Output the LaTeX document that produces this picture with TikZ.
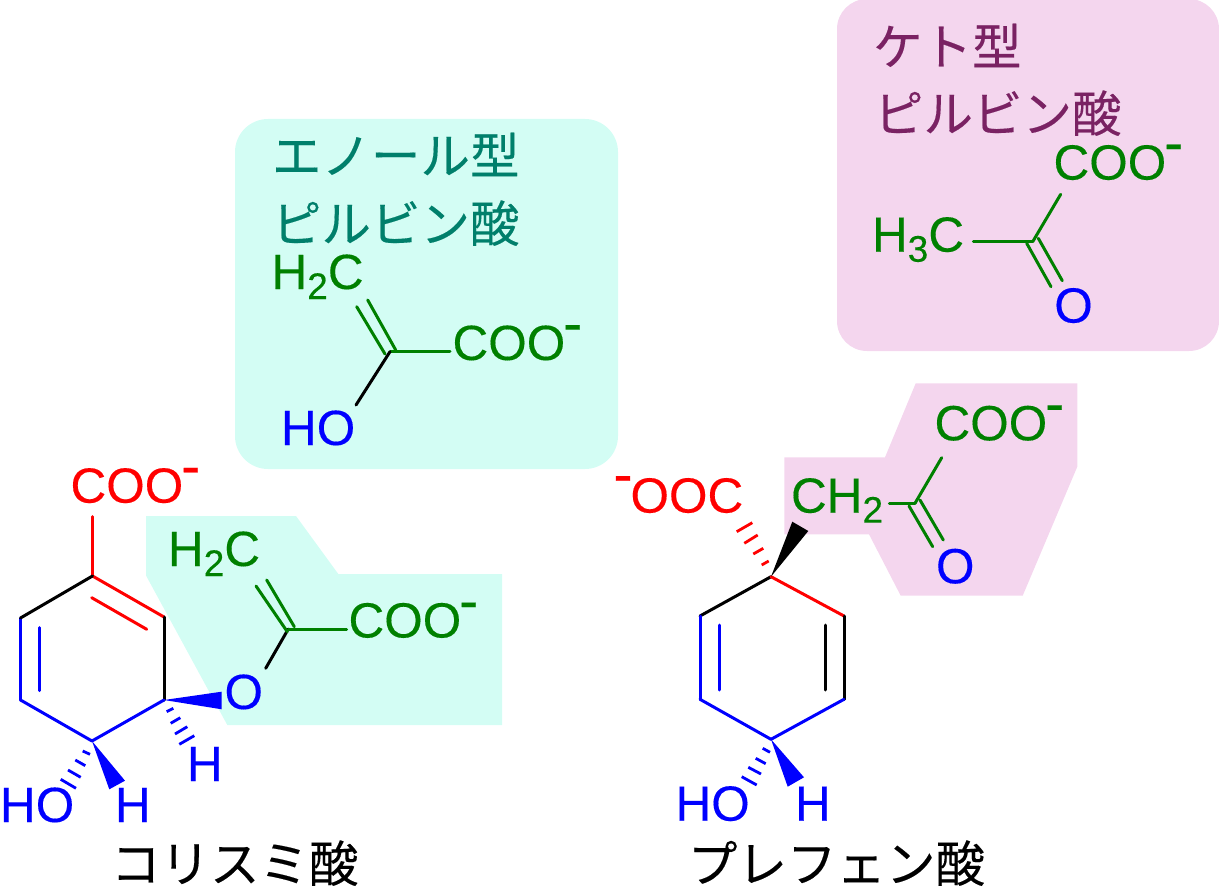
\documentclass[tikz,border=0pt]{standalone}
\usepackage{fontspec}
\setmainfont[FakeBold=0.25]{Liberation Sans}
\newfontfamily\cjk[FakeBold=0.25]{Noto Sans CJK JP}
\definecolor{tealbg}{HTML}{D3FDF4}
\definecolor{pinkbg}{HTML}{F4D6EE}
\definecolor{tealtx}{HTML}{007F6B}
\definecolor{pinktx}{HTML}{7A2263}
\definecolor{grn}{HTML}{008000}
\definecolor{blu}{HTML}{0000FF}
\definecolor{rd}{HTML}{FF0000}
\newcommand{\minussup}{\kern-2pt\raisebox{17.5pt}{\fontsize{57pt}{57pt}\selectfont -}}
\newcommand{\minuspre}{\raisebox{19pt}{\fontsize{57pt}{57pt}\selectfont -}\kern-2pt}
\newcommand{\subdigit}[1]{\raisebox{-10pt}{\fontsize{37pt}{37pt}\selectfont #1}}
\tikzset{
  atom/.style={anchor=base west,inner sep=0pt,outer sep=0pt,font=\fontsize{49.5pt}{49.5pt}\selectfont},
  jp/.style={anchor=base west,inner sep=0pt,outer sep=0pt,font=\fontsize{49.5pt}{49.5pt}\selectfont\cjk},
  bond/.style={line width=3pt,line cap=round,line join=round},
  hashb/.style={line width=2.8pt,line cap=butt}
}
\begin{document}
\begin{tikzpicture}[x=1pt,y=-1pt]
\path[use as bounding box] (0,0) rectangle (1219,888);
% backgrounds
\fill[tealbg,rounded corners=33pt] (235,119) rectangle (618,469);
\fill[pinkbg,rounded corners=30pt] (837,-1) rectangle (1219,351);
\fill[tealbg] (146,516) -- (296,516) -- (338.3,574) -- (502,574) -- (502,725) -- (227.3,725) -- (146,575.5) -- cycle;
\fill[pinkbg] (784.3,457.3) -- (885,457.3) -- (915.7,383.3) -- (1077.3,383.3) -- (1077.3,466.7) -- (1022.7,595.7) -- (900.7,595.7) -- (869,534.3) -- (784.3,534.3) -- cycle;

% ---- enol pyruvate box
\node[jp,text=tealtx] (enolA) at (272,174) {エノール型};
\node[jp,text=tealtx] (enolB) at (272,242) {ピルビン酸};
\node[atom,text=grn] (eCH) at (271.5,289) {H\subdigit{2}C};
\node[atom,text=grn] (eCOO) at (452.5,360) {COO\minussup};
\node[atom,text=blu] (eHO) at (281,445) {HO};
\coordinate (eC) at (390,351.7);
\coordinate (eR) at (450,351.7);
\coordinate (eO) at (356,405);
\coordinate (eD1a) at (395.7,350);
\coordinate (eD1b) at (367.7,300);
\coordinate (eD2a) at (385,354);
\coordinate (eD2b) at (356.7,306.7);
\draw[bond,grn] (eC) -- (eR);
\draw[bond,grn] (eD1a) -- (eD1b);
\draw[bond,grn] (eD2a) -- (eD2b);
\draw[bond,black] (eC) -- (eO);

% ---- keto pyruvate box
\node[jp,text=pinktx] (ketoA) at (873,65) {ケト型};
\node[jp,text=pinktx] (ketoB) at (874,132) {ピルビン酸};
\node[atom,text=grn] (kCOO) at (1053.5,179.6) {COO\minussup};
\node[atom,text=grn] (kCH) at (872,251.7) {H\subdigit{3}C};
\node[atom,text=blu] (kO) at (1054.3,322.6) {O};
\coordinate (kC) at (1032.7,241.7);
\coordinate (kL) at (973.3,241.7);
\coordinate (kU) at (1060.7,194.3);
\coordinate (kD1a) at (1038.3,238.3);
\coordinate (kD1b) at (1062.3,280.7);
\coordinate (kD2a) at (1026.7,243.3);
\coordinate (kD2b) at (1051,286.7);
\draw[bond,grn] (kC) -- (kL);
\draw[bond,grn] (kC) -- (kU);
\draw[bond,grn] (kD1a) -- (kD1b);
\draw[bond,grn] (kD2a) -- (kD2b);

% ---- chorismate
\node[atom,text=rd] (cCOO) at (70.5,502.7) {COO\minussup};
\node[atom,text=grn] (cCH) at (168,566) {H\subdigit{2}C};
\node[atom,text=grn] (cCOOb) at (348.5,637.5) {COO\minussup};
\node[atom,text=blu] (cO) at (224.5,709) {O};
\node[atom,text=blu] (cH1) at (187,781) {H};
\node[atom,text=blu] (cHO) at (0,822) {HO};
\node[atom,text=blu] (cH2) at (115,822) {H};
\node[jp,text=black] (cName) at (111,882) {コリスミ酸};
\coordinate (c1) at (92.5,576);
\coordinate (c2) at (164,617);
\coordinate (c3) at (164,700);
\coordinate (c4) at (92,741);
\coordinate (c5) at (20.5,700);
\coordinate (c6) at (20.5,618);
\coordinate (c1up) at (92.5,516.7);
\coordinate (cIa) at (91.7,597.7);
\coordinate (cIb) at (146.7,629.3);
\coordinate (cJa) at (39.3,627.7);
\coordinate (cJb) at (39.3,690.7);
\coordinate (cV) at (288.3,629);
\coordinate (cVO) at (265.7,668.3);
\coordinate (cVR) at (346.7,629);
\coordinate (cD1a) at (294.3,626.7);
\coordinate (cD1b) at (266.7,580);
\coordinate (cD2a) at (287.3,631.7);
\coordinate (cD2b) at (256,586);
\draw[bond,rd] (c1) -- (c2);
\draw[bond,rd] (c1) -- (c1up);
\draw[bond,rd] (cIa) -- (cIb);
\draw[bond,black] (c2) -- (c3);
\draw[bond,blu] (c3) -- (c4);
\draw[bond,blu] (c4) -- (c5);
\draw[bond,blu] (c5) -- (c6);
\draw[bond,blu] (cJa) -- (cJb);
\draw[bond,black] (c6) -- (c1);
\draw[bond,black] (cV) -- (cVO);
\draw[bond,grn] (cV) -- (cVR);
\draw[bond,grn] (cD1a) -- (cD1b);
\draw[bond,grn] (cD2a) -- (cD2b);
\fill[blu] (c3) -- (221.7,691.7) -- (221.7,709.3) -- cycle;
\fill[blu] (c4) -- (109.3,789.3) -- (125,780.7) -- cycle;
\draw[hashb,blu] (166.7,711.7) -- (173.3,708.3) (170.7,723.3) -- (180.3,717.7) (175,734) -- (187.3,726.7) (179.3,744.3) -- (194.3,735.7);
\draw[hashb,blu] (82.7,751) -- (90,754.3) (75.3,760) -- (85.3,765.7) (68,770) -- (80.7,777.3) (60.7,779.3) -- (76,788.3);

% ---- prephenate
\node[atom,text=rd] (pOOC) at (613.5,512.6) {\minuspre OOC};
\node[atom,text=grn] (pCH) at (791,512.7) {CH\subdigit{2}};
\node[atom,text=grn] (pCOO) at (934.5,440.3) {COO\minussup};
\node[atom,text=blu] (pO) at (936,583.3) {O};
\node[atom,text=blu] (pHO) at (675.5,820.7) {HO};
\node[atom,text=blu] (pH) at (795,820.7) {H};
\node[jp,text=black] (pName) at (688,882) {プレフェン酸};
\coordinate (p1) at (771,576.7);
\coordinate (p2) at (844,616);
\coordinate (p3) at (844,699.3);
\coordinate (p4) at (771,739.3);
\coordinate (p5) at (700,699.3);
\coordinate (p6) at (700,616);
\coordinate (pIa) at (719,625);
\coordinate (pIb) at (719,690);
\coordinate (pJa) at (825,625);
\coordinate (pJb) at (825,690);
\coordinate (pC) at (915,503.3);
\coordinate (pL) at (889.3,503.3);
\coordinate (pU) at (941.7,457.7);
\coordinate (pD1a) at (920,500);
\coordinate (pD1b) at (943.3,540);
\coordinate (pD2a) at (909,506);
\coordinate (pD2b) at (932.7,546.7);
\draw[bond,black] (p1) -- (p6);
\draw[bond,rd] (p1) -- (p2);
\draw[bond,black] (p2) -- (p3);
\draw[bond,blu] (p3) -- (p4);
\draw[bond,blu] (p4) -- (p5);
\draw[bond,blu] (p5) -- (p6);
\draw[bond,blu] (pIa) -- (pIb);
\draw[bond,black] (pJa) -- (pJb);
\draw[bond,grn] (pC) -- (pL);
\draw[bond,grn] (pC) -- (pU);
\draw[bond,grn] (pD1a) -- (pD1b);
\draw[bond,grn] (pD2a) -- (pD2b);
\fill[black] (p1) -- (792.3,521.7) -- (808.3,531) -- cycle;
\fill[blu] (p4) -- (787.7,786.7) -- (804,777.3) -- cycle;
\draw[hashb,rd] (736.7,531.7) -- (752.3,522.7) (744.3,543.3) -- (757.7,535) (753.3,554) -- (763.3,548.3) (761.7,565) -- (768.7,561);
\draw[hashb,blu] (741.7,776.7) -- (756.7,785) (748.3,767.3) -- (761,774) (755.7,758.3) -- (765.7,763.7) (762.7,748.3) -- (770,752.3);
\end{tikzpicture}
\end{document}
